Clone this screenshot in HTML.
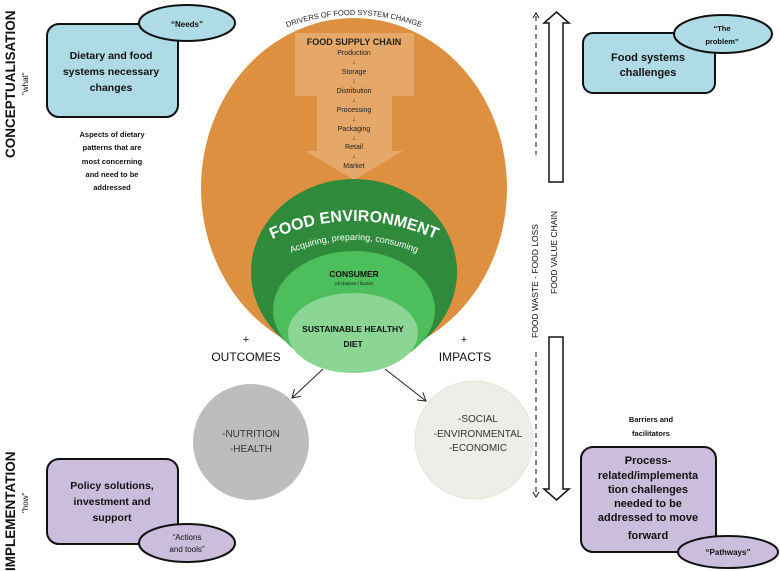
<!DOCTYPE html>
<html><head><meta charset="utf-8"><style>body{margin:0;background:#fff}svg{display:block}text{font-family:"Liberation Sans",sans-serif}</style></head><body>
<svg width="780" height="571" viewBox="0 0 780 571" xmlns="http://www.w3.org/2000/svg">
<defs>
<path id="arcTop" d="M280,30 Q354,0 428,30"/>
<path id="arcFE" d="M266,242 Q354,200 442,242"/>
<path id="arcAc" d="M284,256 Q354,224 424,256"/>
<marker id="ah" markerWidth="10" markerHeight="10" refX="8" refY="5" orient="auto" markerUnits="userSpaceOnUse"><path d="M0,0 L8,5 L0,10" fill="none" stroke="#222" stroke-width="1"/></marker>
</defs>
<ellipse cx="354" cy="188" rx="153" ry="170" fill="#dc9040"/>
<text font-size="7.5" fill="#222"><textPath href="#arcTop" startOffset="50%" text-anchor="middle">DRIVERS OF FOOD SYSTEM CHANGE</textPath></text>
<path d="M295,33 H414 V96 H392 V151 H403 L354,180 L305,151 H317 V96 H295 Z" fill="#e6a868"/>
<g text-anchor="middle" fill="#222" font-size="7">
<text x="354" y="45" font-size="9" font-weight="bold">FOOD SUPPLY CHAIN</text>
<text x="354" y="55">Production</text><text x="354" y="64">↓</text>
<text x="354" y="74">Storage</text><text x="354" y="83">↓</text>
<text x="354" y="93">Distribution</text><text x="354" y="102">↓</text>
<text x="354" y="112">Processing</text><text x="354" y="121">↓</text>
<text x="354" y="131">Packaging</text><text x="354" y="140">↓</text>
<text x="354" y="149">Retail</text><text x="354" y="158">↓</text>
<text x="354" y="168">Market</text>
</g>
<ellipse cx="354" cy="272" rx="103" ry="93" fill="#2f8a3c"/>
<text font-size="16" font-weight="bold" fill="#fff"><textPath href="#arcFE" startOffset="50%" text-anchor="middle">FOOD ENVIRONMENT</textPath></text>
<text font-size="9" fill="#fff"><textPath href="#arcAc" startOffset="50%" text-anchor="middle">Acquiring, preparing, consuming</textPath></text>
<ellipse cx="354" cy="310" rx="81" ry="59" fill="#4cbf5c"/>
<text x="354" y="277" text-anchor="middle" font-size="8.5" font-weight="bold" fill="#111">CONSUMER</text>
<text x="354" y="285" text-anchor="middle" font-size="4.5" fill="#111">All choices / factors</text>
<ellipse cx="353" cy="333" rx="65" ry="40" fill="#8bd694"/>
<text x="353" y="332" text-anchor="middle" font-size="8.5" font-weight="bold" fill="#111">SUSTAINABLE HEALTHY</text>
<text x="353" y="347" text-anchor="middle" font-size="8.5" font-weight="bold" fill="#111">DIET</text>
<text x="246" y="343" text-anchor="middle" font-size="11" fill="#111">+</text>
<text x="246" y="361" text-anchor="middle" font-size="12" fill="#111">OUTCOMES</text>
<text x="464" y="343" text-anchor="middle" font-size="11" fill="#111">+</text>
<text x="465" y="361" text-anchor="middle" font-size="12" fill="#111">IMPACTS</text>
<line x1="323" y1="369" x2="292" y2="398" stroke="#222" stroke-width="1" marker-end="url(#ah)"/>
<line x1="385" y1="369" x2="426" y2="401" stroke="#222" stroke-width="1" marker-end="url(#ah)"/>
<circle cx="251" cy="442" r="58" fill="#bdbdbd"/>
<text x="251" y="437" text-anchor="middle" font-size="10" fill="#333">-NUTRITION</text>
<text x="251" y="452" text-anchor="middle" font-size="10" fill="#333">-HEALTH</text>
<circle cx="474" cy="440" r="59" fill="#ededea" stroke="#e6e6d6" stroke-width="1"/>
<text x="478" y="422" text-anchor="middle" font-size="10" fill="#333">-SOCIAL</text>
<text x="478" y="437" text-anchor="middle" font-size="10" fill="#333">-ENVIRONMENTAL</text>
<text x="478" y="451" text-anchor="middle" font-size="10" fill="#333">-ECONOMIC</text>
<!-- right arrows -->
<path d="M549,182 V23 H544 L556.5,12 L569,23 H563 V182 Z" fill="#fff" stroke="#111" stroke-width="1.5"/>
<path d="M549,337 V489 H544 L556.5,500 L569,489 H563 V337 Z" fill="#fff" stroke="#111" stroke-width="1.5"/>
<line x1="536" y1="16" x2="536" y2="155" stroke="#111" stroke-dasharray="5,4"/>
<path d="M533,18 L536,13 L539,18" fill="none" stroke="#111"/>
<line x1="536" y1="352" x2="536" y2="495" stroke="#111" stroke-dasharray="5,4"/>
<path d="M533,492 L536,497 L539,492" fill="none" stroke="#111"/>
<text transform="translate(538,338) rotate(-90)" font-size="8.5" fill="#111">FOOD WASTE  - FOOD LOSS</text>
<text transform="translate(557,294) rotate(-90)" font-size="8.5" fill="#111">FOOD  VALUE CHAIN</text>
<!-- left labels -->
<text transform="translate(15,158) rotate(-90)" font-size="13.5" font-weight="bold" fill="#111">CONCEPTUALISATION</text>
<text transform="translate(28,95) rotate(-90)" font-size="8" fill="#111">"what"</text>
<text transform="translate(15,571) rotate(-90)" font-size="13.5" font-weight="bold" fill="#111">IMPLEMENTATION</text>
<text transform="translate(28,513) rotate(-90)" font-size="8" fill="#111">"how"</text>
<!-- boxes -->
<rect x="47" y="24" width="131" height="93" rx="12" fill="#aedbe6" stroke="#111" stroke-width="2"/>
<ellipse cx="187" cy="23" rx="48" ry="18" fill="#aedbe6" stroke="#111" stroke-width="2"/>
<text x="187" y="27" text-anchor="middle" font-size="8" font-weight="bold" fill="#111">“Needs”</text>
<g text-anchor="middle" font-size="10.5" font-weight="bold" fill="#111">
<text x="111" y="59">Dietary and food</text><text x="111" y="75">systems necessary</text><text x="111" y="91">changes</text>
</g>
<g text-anchor="middle" font-size="7.5" font-weight="bold" fill="#111">
<text x="112" y="137">Aspects of dietary</text><text x="112" y="150">patterns that are</text><text x="112" y="164">most concerning</text><text x="112" y="177">and need to be</text><text x="112" y="190">addressed</text>
</g>
<rect x="583" y="33" width="132" height="60" rx="10" fill="#aedbe6" stroke="#111" stroke-width="2"/>
<ellipse cx="723" cy="34" rx="49" ry="19" fill="#aedbe6" stroke="#111" stroke-width="2"/>
<text x="722" y="31" text-anchor="middle" font-size="7.5" font-weight="bold" fill="#111">“The</text>
<text x="722" y="44" text-anchor="middle" font-size="7.5" font-weight="bold" fill="#111">problem”</text>
<text x="648" y="61" text-anchor="middle" font-size="11" font-weight="bold" fill="#111">Food systems</text>
<text x="648" y="76" text-anchor="middle" font-size="11" font-weight="bold" fill="#111">challenges</text>
<rect x="47" y="459" width="131" height="85" rx="12" fill="#cbbedc" stroke="#111" stroke-width="2"/>
<ellipse cx="187" cy="543" rx="48" ry="19" fill="#cbbedc" stroke="#111" stroke-width="2"/>
<text x="187" y="540" text-anchor="middle" font-size="8" fill="#111">“Actions</text>
<text x="187" y="552" text-anchor="middle" font-size="8" fill="#111">and tools”</text>
<g text-anchor="middle" font-size="10.5" font-weight="bold" fill="#111">
<text x="112" y="489">Policy solutions,</text><text x="112" y="505">investment and</text><text x="112" y="521">support</text>
</g>
<text x="651" y="422" text-anchor="middle" font-size="7.5" font-weight="bold" fill="#111">Barriers and</text>
<text x="651" y="436" text-anchor="middle" font-size="7.5" font-weight="bold" fill="#111">facilitators</text>
<rect x="581" y="447" width="135" height="105" rx="12" fill="#cbbedc" stroke="#111" stroke-width="2"/>
<g text-anchor="middle" font-size="11" font-weight="bold" fill="#111">
<text x="648" y="464">Process-</text><text x="648" y="479">related/implementa</text><text x="648" y="493">tion challenges</text><text x="648" y="507">needed to be</text><text x="648" y="521">addressed to move</text><text x="648" y="539">forward</text>
</g>
<ellipse cx="728" cy="552" rx="50" ry="16" fill="#cbbedc" stroke="#111" stroke-width="2"/>
<text x="728" y="555" text-anchor="middle" font-size="8" font-weight="bold" fill="#111">“Pathways”</text>
</svg>
</body></html>
